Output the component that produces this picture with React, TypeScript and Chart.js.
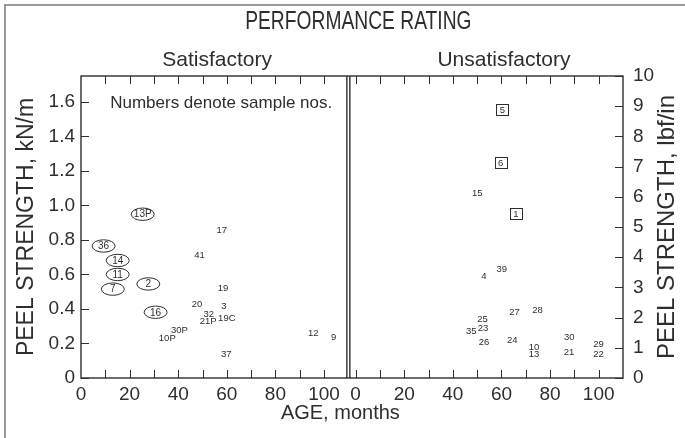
import React, { useEffect, useRef } from 'react';
import { Chart, registerables } from 'chart.js';

Chart.register(...registerables);

const FONT = "'Liberation Sans', Arial, Helvetica, sans-serif";
const INK = '#2e2e2e';

// Axes
const X_TICKS = [0, 10, 20, 30, 40, 50, 60, 70, 80, 90, 100, 110];
const X_LABELS = [0, 20, 40, 60, 80, 100];
const Y_KN_TICKS = [0, 0.2, 0.4, 0.6, 0.8, 1.0, 1.2, 1.4, 1.6];
const Y_LBF_TICKS = [0, 1, 2, 3, 4, 5, 6, 7, 8, 9, 10];

// Satisfactory panel, plain labels
const SAT_PLAIN_LABELS = ['30P', '10P', '17', '41', '19', '20', '3', '32', '21P', '19C', '12', '9', '37'];
const SAT_PLAIN_AGE = [40.5, 35.5, 57.9, 48.8, 58.4, 47.7, 58.8, 52.6, 52.3, 60.0, 95.6, 103.9, 59.8];
const SAT_PLAIN_PEEL = [0.28, 0.235, 0.858, 0.716, 0.524, 0.432, 0.42, 0.373, 0.331, 0.35, 0.26, 0.241, 0.142];

// Satisfactory panel, circled labels
const SAT_CIRCLED_LABELS = ['13P', '36', '14', '11', '7', '2', '16'];
const SAT_CIRCLED_AGE = [25.4, 9.3, 15.1, 15.1, 13.1, 27.7, 30.7];
const SAT_CIRCLED_PEEL = [0.949, 0.765, 0.681, 0.6, 0.515, 0.545, 0.381];

// Unsatisfactory panel, plain labels
const UNSAT_PLAIN_LABELS = ['15', '39', '4', '25', '23', '35', '26', '27', '28', '24', '10', '13', '30', '21', '29', '22'];
const UNSAT_PLAIN_AGE = [50.0, 60.1, 52.8, 52.2, 52.4, 47.6, 52.8, 65.4, 74.8, 64.4, 73.4, 73.4, 87.9, 87.8, 99.9, 99.9];
const UNSAT_PLAIN_PEEL = [1.071, 0.631, 0.59, 0.344, 0.292, 0.272, 0.212, 0.381, 0.397, 0.222, 0.183, 0.141, 0.241, 0.154, 0.195, 0.141];

// Unsatisfactory panel, boxed labels
const UNSAT_BOXED_LABELS = ['5', '6', '1'];
const UNSAT_BOXED_AGE = [60.4, 59.7, 65.9];
const UNSAT_BOXED_PEEL = [1.555, 1.249, 0.951];

const toPoints = (xs: number[], ys: number[]) => xs.map((x, i) => ({ x, y: ys[i] }));

const decorPlugin = {
  id: 'decor',
  afterDraw(chart: any) {
    const { ctx, chartArea: ca, scales } = chart;
    const xL = scales.xL, xR = scales.xR, yL = scales.yL, yR = scales.yR;
    ctx.save();
    // outer scanned frame
    ctx.strokeStyle = '#9a9a9a';
    ctx.lineWidth = 2;
    ctx.beginPath();
    ctx.moveTo(5, 438);
    ctx.lineTo(5, 5);
    ctx.lineTo(685, 5);
    ctx.stroke();

    // plot frame
    ctx.strokeStyle = INK;
    ctx.lineWidth = 1.4;
    ctx.strokeRect(ca.left, ca.top, ca.right - ca.left, ca.bottom - ca.top);
    const mid = xL.right;
    ctx.beginPath();
    ctx.moveTo(mid - 1.5, ca.top); ctx.lineTo(mid - 1.5, ca.bottom);
    ctx.moveTo(mid + 1.5, ca.top); ctx.lineTo(mid + 1.5, ca.bottom);
    ctx.stroke();

    // inward ticks
    const TL = 8;
    ctx.lineWidth = 1;
    ctx.beginPath();
    for (const sc of [xL, xR]) {
      for (const t of sc.ticks) {
        const px = Math.round(sc.getPixelForValue(t.value)) + 0.5;
        if (px <= sc.left + 1 || px >= sc.right - 1) continue;
        ctx.moveTo(px, ca.bottom); ctx.lineTo(px, ca.bottom - TL);
        ctx.moveTo(px, ca.top); ctx.lineTo(px, ca.top + TL);
      }
    }
    for (const t of yL.ticks) {
      const py = Math.round(yL.getPixelForValue(t.value)) + 0.5;
      ctx.moveTo(ca.left, py); ctx.lineTo(ca.left + TL, py);
    }
    for (const t of yR.ticks) {
      const py = Math.round(yR.getPixelForValue(t.value)) + 0.5;
      ctx.moveTo(ca.right, py); ctx.lineTo(ca.right - TL, py);
    }
    ctx.stroke();

    // texts
    ctx.fillStyle = INK;
    ctx.textBaseline = 'middle';
    ctx.textAlign = 'center';
    // main title: tall, narrow lettering
    ctx.save();
    ctx.translate(xL.right + 10, 22);
    ctx.scale(0.77, 1);
    ctx.font = `25px ${FONT}`;
    ctx.fillText('PERFORMANCE RATING', 0, 0);
    ctx.restore();
    ctx.font = `21px ${FONT}`;
    ctx.fillText('Satisfactory', xL.getPixelForValue(56), 60);
    ctx.fillText('Unsatisfactory', xR.getPixelForValue(61), 60);
    ctx.font = `20px ${FONT}`;
    ctx.fillText('AGE, months', mid - 8, 413);
    ctx.font = `17px ${FONT}`;
    ctx.textAlign = 'left';
    ctx.fillText('Numbers denote sample nos.', xL.getPixelForValue(12), yL.getPixelForValue(1.59));

    // right axis title, reading bottom-to-top
    ctx.save();
    ctx.translate(667, (ca.top + ca.bottom) / 2);
    ctx.rotate(-Math.PI / 2);
    ctx.textAlign = 'center';
    ctx.font = `24px ${FONT}`;
    ctx.fillText('PEEL STRENGTH, lbf/in', 0, 0);
    ctx.restore();
    ctx.restore();
  },
  afterDatasetsDraw(chart: any) {
    const { ctx } = chart;
    ctx.save();
    ctx.fillStyle = INK;
    ctx.strokeStyle = INK;
    ctx.lineWidth = 1;
    ctx.textAlign = 'center';
    ctx.textBaseline = 'middle';
    chart.data.datasets.forEach((ds: any, i: number) => {
      const meta = chart.getDatasetMeta(i);
      meta.data.forEach((el: any, j: number) => {
        const label = ds.sampleLabels[j];
        const x = el.x, y = el.y;
        if (ds.shape === 'circle') {
          ctx.beginPath();
          ctx.ellipse(x, y, 11.5, 6.2, 0, 0, Math.PI * 2);
          ctx.stroke();
          ctx.font = `10px ${FONT}`;
        } else if (ds.shape === 'box') {
          ctx.strokeRect(Math.round(x - 6) + 0.5, Math.round(y - 5.5) + 0.5, 12, 11);
          ctx.font = `9.5px ${FONT}`;
        } else {
          ctx.font = `9.5px ${FONT}`;
        }
        ctx.fillText(label, x, y + 0.5);
      });
    });
    ctx.restore();
  },
};

export default function App() {
  const ref = useRef<HTMLCanvasElement | null>(null);
  useEffect(() => {
    document.body.style.margin = '0';
    if (!ref.current) return;
    Chart.defaults.font.family = FONT;
    Chart.defaults.color = INK;
    const xCommon = (min: number, max: number, weight: number) => ({
      type: 'linear' as const,
      position: 'bottom' as const,
      stack: 'age',
      stackWeight: weight,
      min,
      max,
      afterBuildTicks: (s: any) => {
        s.ticks = X_TICKS.filter((v) => v >= min && v <= max).map((v) => ({ value: v }));
      },
      afterFit: (s: any) => {
        s.height = 60;
      },
      grid: { display: false, drawTicks: false },
      border: { display: false },
      ticks: {
        autoSkip: false,
        maxRotation: 0,
        padding: 5,
        color: INK,
        font: { size: 19 },
        callback: (v: any) => (X_LABELS.includes(Number(v)) ? String(v) : ''),
      },
    });
    const chart = new Chart(ref.current, {
      type: 'scatter',
      data: {
        datasets: [
          { data: toPoints(SAT_PLAIN_AGE, SAT_PLAIN_PEEL), xAxisID: 'xL', yAxisID: 'yL', sampleLabels: SAT_PLAIN_LABELS, shape: 'plain' } as any,
          { data: toPoints(SAT_CIRCLED_AGE, SAT_CIRCLED_PEEL), xAxisID: 'xL', yAxisID: 'yL', sampleLabels: SAT_CIRCLED_LABELS, shape: 'circle' } as any,
          { data: toPoints(UNSAT_PLAIN_AGE, UNSAT_PLAIN_PEEL), xAxisID: 'xR', yAxisID: 'yL', sampleLabels: UNSAT_PLAIN_LABELS, shape: 'plain' } as any,
          { data: toPoints(UNSAT_BOXED_AGE, UNSAT_BOXED_PEEL), xAxisID: 'xR', yAxisID: 'yL', sampleLabels: UNSAT_BOXED_LABELS, shape: 'box' } as any,
        ],
      },
      options: {
        responsive: false,
        maintainAspectRatio: false,
        devicePixelRatio: 1,
        animation: false,
        events: [],
        elements: { point: { radius: 0, hoverRadius: 0 } },
        layout: { padding: { top: 76, left: 0, right: 0, bottom: 0 } },
        plugins: { legend: { display: false }, tooltip: { enabled: false }, title: { display: false } },
        scales: {
          xL: xCommon(0, 110, 110),
          xR: xCommon(-3, 110, 113),
          yL: {
            type: 'linear',
            position: 'left',
            min: 0,
            max: 1.75,
            afterBuildTicks: (s: any) => {
              s.ticks = Y_KN_TICKS.map((v) => ({ value: v }));
            },
            afterFit: (s: any) => {
              s.width = 81;
            },
            grid: { display: false, drawTicks: false },
            border: { display: false },
            title: {
              display: true,
              text: 'PEEL STRENGTH, kN/m',
              color: INK,
              font: { size: 23 },
              padding: { top: 13, bottom: 0 },
            },
            ticks: {
              padding: 6,
              color: INK,
              font: { size: 19 },
              autoSkip: false,
              callback: (v: any) => (Number(v) === 0 ? '0' : Number(v).toFixed(1)),
            },
          },
          yR: {
            type: 'linear',
            position: 'right',
            min: 0,
            max: 10,
            afterBuildTicks: (s: any) => {
              s.ticks = Y_LBF_TICKS.map((v) => ({ value: v }));
            },
            afterFit: (s: any) => {
              s.width = 62;
            },
            grid: { display: false, drawTicks: false },
            border: { display: false },
            ticks: {
              padding: 10,
              color: INK,
              font: { size: 19 },
              autoSkip: false,
              callback: (v: any) => String(v),
            },
          },
        },
      } as any,
      plugins: [decorPlugin],
    });
    return () => chart.destroy();
  }, []);
  return (
    <div style={{ width: 685, height: 438, position: 'relative', background: '#fff' }}>
      <canvas ref={ref} width={685} height={438} style={{ display: 'block' }} />
    </div>
  );
}
